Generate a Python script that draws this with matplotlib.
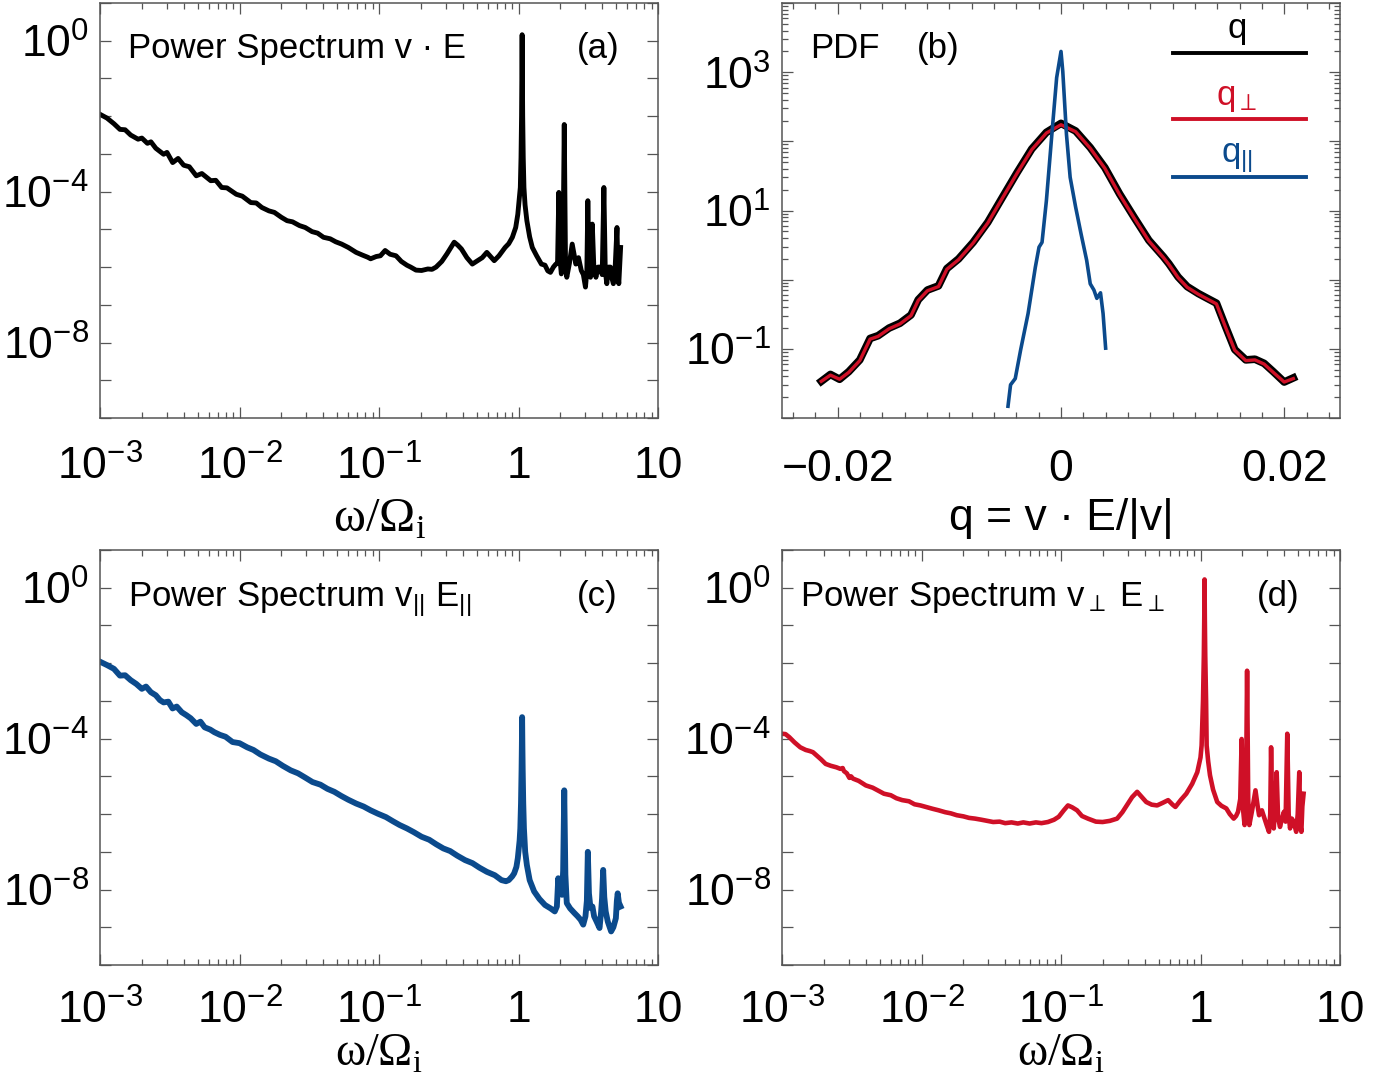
import numpy as np
import matplotlib
matplotlib.use('Agg')
import matplotlib.pyplot as plt
from matplotlib.ticker import FixedLocator, FixedFormatter, FuncFormatter, LogLocator, MultipleLocator, NullFormatter
from matplotlib.lines import Line2D

plt.rcParams['font.family'] = ['Liberation Sans', 'DejaVu Sans']
plt.rcParams['mathtext.fontset'] = 'custom'
plt.rcParams['mathtext.rm'] = 'Liberation Sans'
plt.rcParams['mathtext.it'] = 'Liberation Sans:italic'
plt.rcParams['mathtext.bf'] = 'Liberation Sans:bold'

# ---------------- data (log10 values) ----------------
# Panel (a): power spectrum of v.E
log_omega_a = [-3.00, -2.95, -2.90, -2.857, -2.82, -2.78, -2.727, -2.70, -2.66, -2.635, -2.60, -2.544,
               -2.52, -2.479, -2.44, -2.40, -2.36, -2.31, -2.27, -2.206, -2.17, -2.128, -2.09, -2.05,
               -2.023, -1.98, -1.919, -1.88, -1.84, -1.789, -1.75, -1.70, -1.659, -1.62, -1.57, -1.529,
               -1.48, -1.44, -1.398, -1.35, -1.31, -1.268, -1.22, -1.164, -1.12, -1.08, -1.06, -1.02,
               -0.99, -0.956, -0.92, -0.878, -0.84, -0.80, -0.773, -0.735, -0.695, -0.65, -0.62, -0.591,
               -0.55, -0.513, -0.48, -0.461, -0.435, -0.409, -0.37, -0.331, -0.29, -0.26, -0.227, -0.20,
               -0.174, -0.14, -0.096, -0.07, -0.044, -0.02, -0.005, 0.008, 0.013, 0.018, 0.022, 0.024,
               0.026, 0.028, 0.030, 0.034, 0.039, 0.047, 0.060, 0.08, 0.099, 0.13, 0.164, 0.19, 0.21,
               0.229, 0.25, 0.268, 0.280, 0.289, 0.298, 0.307, 0.318, 0.328, 0.337, 0.346, 0.365, 0.385,
               0.40, 0.411, 0.43, 0.45, 0.465, 0.48, 0.49, 0.497, 0.505, 0.516, 0.523, 0.529, 0.54,
               0.555, 0.57, 0.586, 0.60, 0.612, 0.622, 0.633, 0.645, 0.659, 0.67, 0.68, 0.693, 0.706,
               0.713, 0.719, 0.726, 0.732]
log_power_a = [-1.95, -2.05, -2.20, -2.35, -2.36, -2.50, -2.61, -2.58, -2.72, -2.68, -2.85, -3.01,
               -2.96, -3.23, -3.12, -3.30, -3.34, -3.58, -3.52, -3.71, -3.70, -3.89, -3.90, -4.00,
               -4.07, -4.12, -4.29, -4.30, -4.42, -4.51, -4.55, -4.68, -4.77, -4.80, -4.90, -4.95,
               -5.06, -5.10, -5.21, -5.25, -5.33, -5.39, -5.48, -5.61, -5.68, -5.74, -5.78, -5.72,
               -5.70, -5.56, -5.66, -5.70, -5.85, -5.95, -6.00, -6.08, -6.09, -6.05, -6.06, -6.00,
               -5.85, -5.65, -5.45, -5.34, -5.42, -5.52, -5.75, -5.92, -5.82, -5.75, -5.61, -5.72,
               -5.83, -5.70, -5.48, -5.38, -5.21, -4.95, -4.60, -4.10, -3.89, -3.10, -2.00, -1.00,
               0.16, -1.00, -2.00, -3.10, -3.89, -4.35, -4.77, -5.20, -5.48, -5.70, -5.92, -5.95, -6.10,
               -6.14, -6.00, -5.92, -5.90, -4.02, -5.80, -6.18, -6.00, -2.22, -5.90, -6.27, -5.90, -5.39,
               -5.70, -5.92, -5.75, -6.09, -6.20, -6.53, -6.10, -4.24, -5.90, -6.27, -5.80, -4.86, -6.00,
               -6.27, -6.00, -6.00, -6.20, -3.89, -6.10, -6.44, -6.00, -6.00, -6.30, -6.44, -6.00, -4.95,
               -6.20, -6.44, -5.90, -5.48]

# Panel (c): power spectrum of v_par E_par
log_omega_c = [-3.00, -2.95, -2.90, -2.857, -2.82, -2.78, -2.74, -2.70, -2.67, -2.635, -2.60, -2.57,
               -2.544, -2.51, -2.48, -2.45, -2.414, -2.38, -2.35, -2.31, -2.28, -2.25, -2.21, -2.18,
               -2.14, -2.10, -2.05, -2.00, -1.945, -1.90, -1.85, -1.789, -1.74, -1.69, -1.633, -1.58,
               -1.53, -1.477, -1.42, -1.37, -1.32, -1.27, -1.22, -1.164, -1.11, -1.06, -1.008, -0.95,
               -0.90, -0.852, -0.80, -0.75, -0.695, -0.64, -0.59, -0.539, -0.49, -0.44, -0.383, -0.33,
               -0.28, -0.227, -0.17, -0.122, -0.09, -0.07, -0.045, -0.031, -0.015, -0.005, 0.008, 0.013,
               0.018, 0.022, 0.024, 0.026, 0.028, 0.030, 0.034, 0.039, 0.048, 0.06, 0.08, 0.112, 0.15,
               0.19, 0.23, 0.26, 0.275, 0.285, 0.29, 0.30, 0.312, 0.32, 0.328, 0.336, 0.346, 0.37, 0.40,
               0.424, 0.445, 0.464, 0.48, 0.49, 0.497, 0.505, 0.516, 0.53, 0.542, 0.56, 0.581, 0.592,
               0.599, 0.607, 0.615, 0.625, 0.64, 0.664, 0.68, 0.698, 0.705, 0.711, 0.72, 0.732]
log_power_c = [-1.96, -2.05, -2.15, -2.33, -2.32, -2.45, -2.55, -2.68, -2.62, -2.77, -2.85, -2.98,
               -3.04, -3.02, -3.20, -3.15, -3.30, -3.38, -3.46, -3.61, -3.55, -3.70, -3.76, -3.83,
               -3.90, -3.95, -4.09, -4.12, -4.23, -4.30, -4.42, -4.53, -4.60, -4.72, -4.84, -4.92,
               -5.03, -5.15, -5.22, -5.33, -5.41, -5.52, -5.62, -5.72, -5.80, -5.90, -5.99, -6.08,
               -6.19, -6.29, -6.38, -6.48, -6.60, -6.68, -6.80, -6.91, -6.98, -7.10, -7.22, -7.30,
               -7.42, -7.53, -7.62, -7.75, -7.78, -7.75, -7.65, -7.57, -7.40, -7.17, -6.70, -6.38,
               -5.70, -4.80, -4.20, -3.43, -4.20, -4.80, -5.70, -6.38, -7.00, -7.35, -7.75, -8.05, -8.25,
               -8.41, -8.50, -8.58, -8.45, -7.70, -7.90, -8.05, -8.14, -7.50, -5.37, -7.60, -8.36, -8.50,
               -8.62, -8.71, -8.80, -8.93, -8.71, -8.30, -7.00, -8.10, -8.49, -8.45, -8.71, -8.85, -9.02,
               -8.60, -8.23, -7.48, -8.20, -8.58, -8.85, -9.11, -9.00, -8.76, -8.30, -8.10, -8.35, -8.45]

# Panel (d): power spectrum of v_perp E_perp
log_omega_d = [-3.00, -2.975, -2.948, -2.91, -2.869, -2.83, -2.80, -2.778, -2.75, -2.72, -2.687, -2.65,
               -2.61, -2.582, -2.565, -2.556, -2.535, -2.517, -2.505, -2.491, -2.45, -2.399, -2.35,
               -2.30, -2.269, -2.22, -2.18, -2.138, -2.09, -2.05, -2.008, -1.96, -1.92, -1.877, -1.83,
               -1.79, -1.747, -1.70, -1.66, -1.616, -1.57, -1.53, -1.486, -1.44, -1.40, -1.355, -1.31,
               -1.27, -1.225, -1.18, -1.14, -1.094, -1.05, -1.016, -0.98, -0.95, -0.92, -0.885, -0.85,
               -0.807, -0.75, -0.702, -0.65, -0.598, -0.56, -0.52, -0.49, -0.454, -0.42, -0.389, -0.35,
               -0.311, -0.27, -0.232, -0.20, -0.18, -0.14, -0.102, -0.06, -0.023, 0.00, 0.008, 0.018,
               0.024, 0.027, 0.029, 0.031, 0.034, 0.040, 0.044, 0.055, 0.068, 0.09, 0.12, 0.15, 0.185,
               0.21, 0.238, 0.255, 0.269, 0.285, 0.295, 0.303, 0.316, 0.326, 0.334, 0.342, 0.35, 0.37,
               0.394, 0.41, 0.42, 0.44, 0.459, 0.475, 0.491, 0.50, 0.506, 0.514, 0.525, 0.535, 0.546,
               0.556, 0.57, 0.585, 0.598, 0.61, 0.622, 0.632, 0.642, 0.655, 0.668, 0.686, 0.697, 0.708,
               0.716, 0.723, 0.73, 0.739]
log_power_d = [-3.87, -3.88, -3.96, -4.10, -4.23, -4.30, -4.33, -4.36, -4.45, -4.55, -4.67, -4.72,
               -4.76, -4.80, -4.78, -4.86, -4.92, -5.04, -5.00, -5.06, -5.12, -5.24, -5.30, -5.40,
               -5.46, -5.50, -5.58, -5.63, -5.66, -5.74, -5.77, -5.82, -5.86, -5.90, -5.95, -5.98,
               -6.03, -6.06, -6.10, -6.12, -6.15, -6.18, -6.21, -6.20, -6.24, -6.22, -6.25, -6.22,
               -6.25, -6.22, -6.24, -6.21, -6.15, -6.07, -5.90, -5.77, -5.82, -5.90, -6.05, -6.12,
               -6.20, -6.21, -6.18, -6.12, -5.95, -5.72, -5.55, -5.41, -5.55, -5.68, -5.75, -5.77,
               -5.70, -5.63, -5.75, -5.81, -5.62, -5.46, -5.20, -4.89, -4.50, -4.18, -3.00, -1.80,
               -0.80, 0.22, -0.80, -1.80, -3.00, -4.18, -4.60, -4.97, -5.35, -5.68, -5.78, -5.85,
               -6.00, -6.12, -6.05, -5.94, -5.60, -4.01, -5.80, -6.29, -5.50, -2.20, -5.60, -6.29, -5.90,
               -5.37, -5.80, -6.03, -5.90, -6.12, -6.30, -6.47, -6.00, -4.23, -6.00, -6.38, -5.80, -4.89,
               -6.10, -6.34, -6.10, -5.94, -6.20, -3.87, -6.00, -6.38, -6.12, -6.20, -6.47, -6.00, -4.89,
               -6.30, -6.47, -5.80, -5.46]

# Panel (b): PDFs of q, q_perp, q_par
q_tot = [-0.02148, -0.02066, -0.01984, -0.01902, -0.01803, -0.01711, -0.01639, -0.01541, -0.01443,
         -0.01344, -0.01279, -0.01197, -0.01098, -0.01023, -0.00918, -0.00787, -0.00656, -0.00525,
         -0.00393, -0.00262, -0.00131, 0.0, 0.00131, 0.00262, 0.00393, 0.00525, 0.00656, 0.00787,
         0.00918, 0.00967, 0.01049, 0.01131, 0.0123, 0.01311, 0.01393, 0.01475, 0.01557, 0.01656,
         0.01738, 0.0182, 0.01902, 0.02, 0.02082]
log_pdf_tot = [-1.47, -1.37, -1.44, -1.33, -1.16, -0.85, -0.81, -0.70, -0.63, -0.51, -0.29, -0.15,
               -0.09, 0.16, 0.30, 0.54, 0.83, 1.19, 1.55, 1.89, 2.13, 2.26, 2.15, 1.91, 1.62, 1.24,
               0.90, 0.57, 0.33, 0.23, 0.04, -0.10, -0.20, -0.27, -0.34, -0.68, -1.01, -1.16, -1.15,
               -1.21, -1.33, -1.48, -1.42]
q_perp = q_tot
log_pdf_perp = [-1.47, -1.38, -1.44, -1.34, -1.17, -0.86, -0.82, -0.71, -0.64, -0.52, -0.30, -0.16,
                -0.10, 0.15, 0.29, 0.53, 0.82, 1.18, 1.54, 1.88, 2.12, 2.24, 2.14, 1.90, 1.61, 1.23,
                0.89, 0.56, 0.32, 0.22, 0.03, -0.11, -0.21, -0.28, -0.35, -0.69, -1.02, -1.17, -1.16,
                -1.22, -1.34, -1.48, -1.43]
q_par = [-0.00475, -0.00452, -0.0041, -0.00361, -0.00295, -0.0023, -0.00197, -0.0017, -0.00131,
         -0.00082, -0.00039, 0.0, 0.00016, 0.00049, 0.00082, 0.00131, 0.0018, 0.0023, 0.00262,
         0.00295, 0.00321, 0.00354, 0.00377, 0.004]
log_pdf_par = [-1.83, -1.52, -1.43, -1.01, -0.49, 0.18, 0.47, 0.54, 1.14, 2.10, 2.92, 3.30, 3.01,
               2.10, 1.48, 1.05, 0.66, 0.28, -0.06, -0.15, -0.27, -0.19, -0.49, -0.99]

spec_xticks = [1e-3, 1e-2, 1e-1, 1, 10]
spec_xticklabels = [r'$10^{-3}$', r'$10^{-2}$', r'$10^{-1}$', '1', '10']
spec_yticks = [1e0, 1e-4, 1e-8]
spec_yticklabels = [r'$10^{0}$', r'$10^{-4}$', r'$10^{-8}$']
pdf_xticks = [-0.02, 0.0, 0.02]
pdf_xticklabels = ['\u22120.02', '0', '0.02']
pdf_ylabels = {3: r'$10^{3}$', 1: r'$10^{1}$', -1: r'$10^{-1}$'}
legend_labels = ['q', r'q$_{\perp}$', r'q$_{||}$']

BLACK = '#000000'
RED = '#cf1027'
BLUE = '#0b4a8c'
SPINE = '#555555'

# ---------------- figure ----------------
W, H = 1390, 1085
fig = plt.figure(figsize=(W / 100, H / 100), dpi=100)

def box(l, t, r, b):
    return [l / W, 1 - b / H, (r - l) / W, (b - t) / H]

ax_a = fig.add_axes(box(100, 3, 658, 418))
ax_b = fig.add_axes(box(782, 3, 1340, 418))
ax_c = fig.add_axes(box(100, 550, 658, 965))
ax_d = fig.add_axes(box(782, 550, 1340, 965))

TICKFS = 32
TITLEFS = 25

def style_common(ax):
    for s in ax.spines.values():
        s.set_color(SPINE)
        s.set_linewidth(1.1)
    ax.tick_params(which='both', direction='in', top=True, right=True, colors=SPINE,
                   labelcolor='black', labelsize=TICKFS, width=0.9)

def style_spec(ax, xlabel_size, xlabel_pad, tick_pad):
    ax.set_xscale('log')
    ax.set_yscale('log')
    ax.set_xlim(1e-3, 10)
    ax.set_ylim(1e-10, 1e1)
    style_common(ax)
    ax.xaxis.set_major_locator(FixedLocator(spec_xticks))
    ax.xaxis.set_major_formatter(FixedFormatter(spec_xticklabels))
    ax.xaxis.set_minor_locator(LogLocator(base=10, subs=np.arange(2, 10), numticks=20))
    ax.xaxis.set_minor_formatter(NullFormatter())
    ax.yaxis.set_major_locator(FixedLocator(spec_yticks))
    ax.yaxis.set_major_formatter(FixedFormatter(spec_yticklabels))
    ax.yaxis.set_minor_locator(LogLocator(base=10, subs=[1.0], numticks=30))
    ax.yaxis.set_minor_formatter(NullFormatter())
    ax.tick_params(axis='x', which='major', length=8, pad=tick_pad)
    ax.tick_params(axis='x', which='minor', length=4)
    ax.tick_params(axis='y', which='major', length=8, pad=8)
    ax.tick_params(axis='y', which='minor', length=8)
    ax.set_xlabel(r'ω/Ω$_{\mathregular{i}}$', fontsize=xlabel_size, family='Liberation Serif',
                  labelpad=xlabel_pad)

def to_lin(vals):
    return np.power(10.0, np.asarray(vals))

# (a)
style_spec(ax_a, 35, 6, 20)
ax_a.plot(to_lin(log_omega_a), to_lin(log_power_a), color=BLACK, lw=3.5)
ax_a.text(0.050, 0.8675, 'Power Spectrum v \u00b7 E', transform=ax_a.transAxes, fontsize=TITLEFS,
          ha='left', va='baseline')
ax_a.text(0.892, 0.8675, '(a)', transform=ax_a.transAxes, fontsize=TITLEFS, ha='center', va='baseline')

# (c)
style_spec(ax_c, 33, 0, 18)
ax_c.plot(to_lin(log_omega_c), to_lin(log_power_c), color=BLUE, lw=4.2)
ax_c.text(0.050, 0.865, r'Power Spectrum v$_{||}$ E$_{||}$', transform=ax_c.transAxes, fontsize=TITLEFS,
          ha='left', va='baseline')
ax_c.text(0.891, 0.865, '(c)', transform=ax_c.transAxes, fontsize=TITLEFS, ha='center', va='baseline')

# (d)
style_spec(ax_d, 33, 0, 18)
ax_d.plot(to_lin(log_omega_d), to_lin(log_power_d), color=RED, lw=3.3)
ax_d.text(0.032, 0.865, r'Power Spectrum v$_{\perp}$ E$_{\perp}$', transform=ax_d.transAxes,
          fontsize=TITLEFS, ha='left', va='baseline')
ax_d.text(0.889, 0.865, '(d)', transform=ax_d.transAxes, fontsize=TITLEFS, ha='center', va='baseline')

# (b)
ax = ax_b
ax.set_yscale('log')
ax.set_xlim(-0.025, 0.025)
ax.set_ylim(1e-2, 1e4)
style_common(ax)
ax.xaxis.set_major_locator(FixedLocator(pdf_xticks))
ax.xaxis.set_major_formatter(FixedFormatter(pdf_xticklabels))
ax.xaxis.set_minor_locator(MultipleLocator(0.002))
ax.yaxis.set_major_locator(LogLocator(base=10, numticks=20))
ax.yaxis.set_major_formatter(FuncFormatter(lambda v, p: pdf_ylabels.get(int(round(np.log10(v))), '')))
ax.yaxis.set_minor_locator(LogLocator(base=10, subs=np.arange(2, 10), numticks=50))
ax.yaxis.set_minor_formatter(NullFormatter())
ax.tick_params(axis='x', which='major', length=8, pad=22)
ax.tick_params(axis='x', which='minor', length=4)
ax.tick_params(axis='y', which='major', length=8, pad=8)
ax.tick_params(axis='y', which='minor', length=4)
ax.plot(q_tot, to_lin(log_pdf_tot), color=BLACK, lw=5.5, solid_joinstyle='round')
ax.plot(q_perp, to_lin(log_pdf_perp), color=RED, lw=2.4)
ax.plot(q_par, to_lin(log_pdf_par), color=BLUE, lw=2.6)
ax.set_xlabel('q = v \u00b7 E/|v|', fontsize=32, labelpad=6)
ax.text(0.050, 0.8675, 'PDF', transform=ax.transAxes, fontsize=TITLEFS, ha='left', va='baseline')
ax.text(0.280, 0.8675, '(b)', transform=ax.transAxes, fontsize=TITLEFS, ha='center', va='baseline')

# legend (label above each line sample)
leg_colors = [BLACK, RED, BLUE]
leg_y = [0.880, 0.720, 0.581]
for lab, col, yy in zip(legend_labels, leg_colors, leg_y):
    ax.add_line(Line2D([0.701, 0.939], [yy, yy], transform=ax.transAxes, color=col, lw=2.8))
    ax.text(0.815, yy + 0.035, lab, transform=ax.transAxes, color=col, fontsize=TITLEFS,
            ha='center', va='baseline')

fig.savefig('out.png', dpi=100)
